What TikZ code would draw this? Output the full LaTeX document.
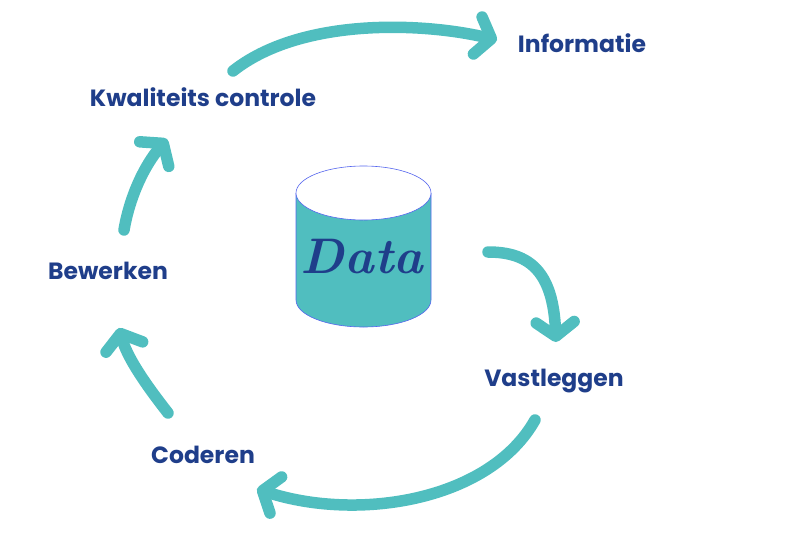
\documentclass[tikz,border=0pt]{standalone}
\usepackage{fontspec}
\setmainfont{Poppins}
\newfontfamily\datafont{Latin Modern Roman}
\usetikzlibrary{arrows.meta}
\definecolor{teal1}{HTML}{50BEBF}
\definecolor{navy1}{HTML}{1F3E8A}
\definecolor{rim}{HTML}{5566EE}
\tikzset{
  lbl/.style={font=\bfseries\fontsize{23.5}{28}\selectfont, text=navy1, inner sep=0pt},
  flow/.style={draw=teal1, line width=11.5pt, line cap=round,
    -{Straight Barb[round, length=14pt, width=38pt, line width=11.5pt]}},
}
\begin{document}
\begin{tikzpicture}[x=1pt,y=-1pt]
\useasboundingbox (0,0) rectangle (800,533);
% cylinder
\fill[teal1] (296,193) -- (296,300) arc[start angle=180, end angle=0, x radius=67.5, y radius=27] -- (431,193) -- cycle;
\draw[rim, line width=0.6pt] (296,193) -- (296,300) arc[start angle=180, end angle=0, x radius=67.5, y radius=27] -- (431,193);
\filldraw[fill=white, draw=rim, line width=0.6pt] (363.5,193) ellipse[x radius=67.5, y radius=27];
\node[text=navy1, font=\datafont\bfseries\itshape\fontsize{50}{56}\selectfont, inner sep=0pt] (data) at (362,257) {Data};
% labels
\node[lbl] (info) at (582,43) {Informatie};
\node[lbl] (kwal) at (203,97) {Kwaliteits controle};
\node[lbl] (bew) at (108,271) {Bewerken};
\node[lbl] (cod) at (203,455) {Coderen};
\node[lbl] (vast) at (554,381) {Vastleggen};
% arrow anchor coordinates
\coordinate (a1s) at (233,71);
\coordinate (a1e) at (497,40);
\coordinate (a2s) at (488,252);
\coordinate (a2e) at (556,342);
\coordinate (a3s) at (535,420);
\coordinate (a3e) at (257,489);
\coordinate (a4s) at (168,413);
\coordinate (a4e) at (119,328);
\coordinate (a5s) at (124,230);
\coordinate (a5e) at (167,139);
% arrows
\draw[flow] (a1s) .. controls (300,18) and (420,22) .. (a1e);
\draw[flow] (a2s) .. controls (530,252) and (553,272) .. (a2e);
\draw[flow] (a3s) .. controls (490,500) and (360,522) .. (a3e);
\draw[flow] (a4s) .. controls (150,390) and (128,360) .. (a4e);
\draw[flow] (a5s) .. controls (130,195) and (145,165) .. (a5e);
\end{tikzpicture}
\end{document}
